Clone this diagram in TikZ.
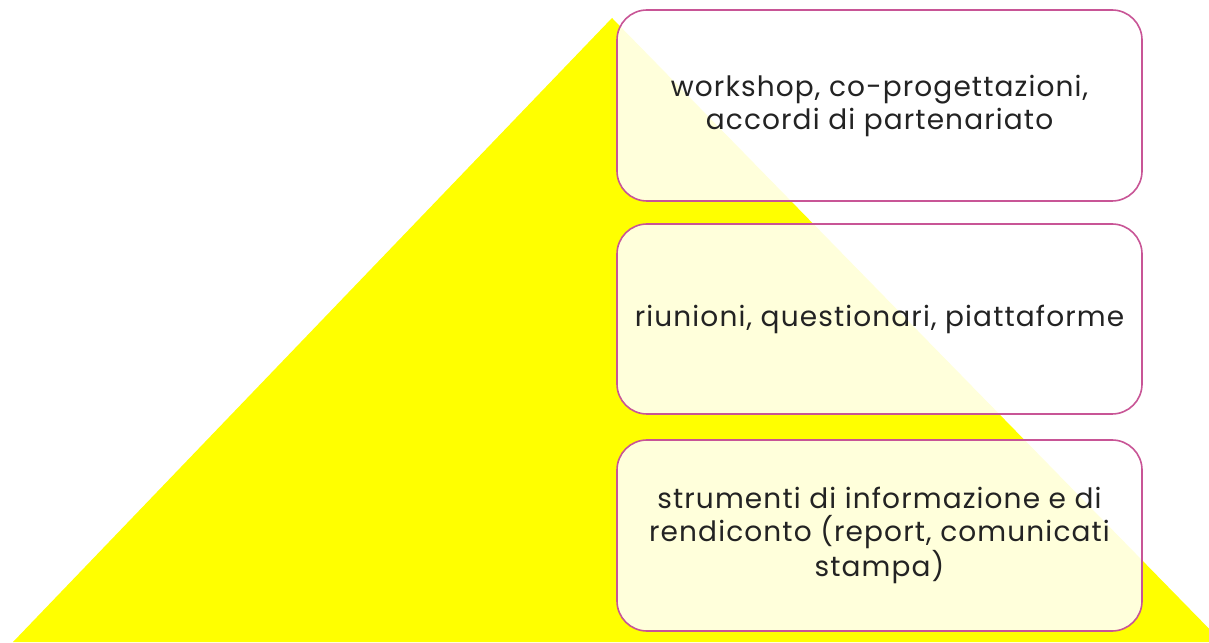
\documentclass[tikz,border=0pt]{standalone}
\usepackage{fontspec}
\setmainfont{Poppins}[LetterSpace=4]
\definecolor{tri}{RGB}{255,255,0}
\definecolor{rim}{RGB}{200,85,150}
\definecolor{ink}{RGB}{35,35,35}
\begin{document}
\begin{tikzpicture}[x=1pt,y=1pt,
  level/.style={draw=rim, line width=1.6pt, rounded corners=30pt,
    fill=white, fill opacity=0.86, text opacity=1, text=ink,
    minimum width=525pt, minimum height=191pt, align=center,
    font=\fontsize{28}{33}\selectfont, inner sep=0pt}]
\useasboundingbox (0,0) rectangle (1209,642);
\begin{scope}
\clip (0,0) rectangle (1209,642);
\fill[tri] (612,624) -- (13,0) -- (1222,0) -- cycle;
\end{scope}
\node[level] (top) at (879.5,536.5) {workshop, co-progettazioni,\\accordi di partenariato};
\node[level, minimum height=190pt] (mid) at (879.5,323) {riunioni, questionari, piattaforme};
\node[level] (bot) at (879.5,106.5) {strumenti di informazione e di\\rendiconto (report, comunicati\\stampa)};
\end{tikzpicture}
\end{document}
